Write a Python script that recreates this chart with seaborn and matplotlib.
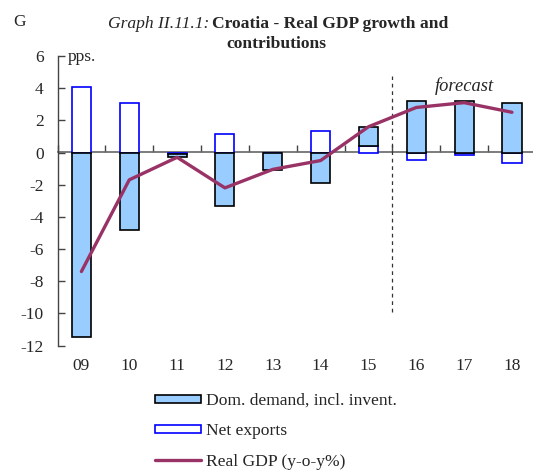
import numpy as np
import seaborn as sns
import matplotlib.pyplot as plt

# data
years = ['09', '10', '11', '12', '13', '14', '15', '16', '17', '18']
dom_demand = [-11.45, -4.8, -0.2, -3.35, -1.1, -1.9, 1.18, 3.2, 3.2, 3.1]
net_exports = [4.05, 3.05, -0.1, 1.15, 0.0, 1.35, 0.43, -0.46, -0.15, -0.66]
real_gdp = [-7.4, -1.7, -0.3, -2.2, -1.05, -0.5, 1.6, 2.8, 3.1, 2.5]
yticks = [6, 4, 2, 0, -2, -4, -6, -8, -10, -12]

sns.set_style("ticks")
plt.rcParams['font.family'] = ['Liberation Serif', 'DejaVu Serif']
plt.rcParams['font.size'] = 12.5
plt.rcParams['axes.unicode_minus'] = False

fig = plt.figure(figsize=(5.33, 4.70), dpi=100)
ax = fig.add_axes([57.5 / 533, 1 - 345.5 / 470, 475.5 / 533, 289.5 / 470])

x = np.arange(len(years))
nx = np.array(net_exports)
dd = np.array(dom_demand)
# stack domestic demand on top of net exports when both have the same sign
dd_bottom = np.where(np.sign(nx) == np.sign(dd), nx, 0.0)

width = 0.4
ax.bar(x, nx, width=width, color='white', edgecolor='#0000FF', linewidth=1.2,
       label='Net exports', zorder=2)
ax.bar(x, dd, bottom=dd_bottom, width=width, color='#99CCFF', edgecolor='black',
       linewidth=1.2, label='Dom. demand, incl. invent.', zorder=3)
sns.lineplot(x=x, y=real_gdp, ax=ax, color='#993366', linewidth=2.4,
             label='Real GDP (y-o-y%)', zorder=4)

ax.set_xlim(-0.5, 9.44)
ax.set_ylim(-12, 6)
ax.set_yticks(yticks)
ax.tick_params(axis='y', direction='in', length=5, width=1, pad=10,
               labelsize=12.5, color='#444444')
ax.set_xticks(x)
ax.set_xticklabels(years)
ax.tick_params(axis='x', length=0, pad=9, labelsize=12.5)

for s in ['top', 'right', 'bottom']:
    ax.spines[s].set_visible(False)
ax.spines['left'].set_color('#444444')
ax.spines['left'].set_linewidth(1)

# zero line with ticks between categories (secondary axis sits at y = 0)
zero = ax.secondary_xaxis(12 / 18)
zero.set_xticks(np.arange(len(years) + 1) - 0.5)
zero.tick_params(direction='out', length=5, width=1, color='#444444',
                 labelbottom=False, labeltop=False)
for s in ['top', 'bottom']:
    zero.spines[s].set_color('#666666')
    zero.spines[s].set_linewidth(1.2)

# forecast divider
ax.vlines(6.5, -9.9, 4.75, colors='#333333', linestyles=(0, (3, 3)), linewidth=0.9)
ax.text(8.0, 4.1, 'forecast', style='italic', ha='center', va='center', fontsize=13.3)
ax.text(0.022, 0.995, 'pps.', transform=ax.transAxes, ha='left', va='center',
        fontsize=12.5)

# titles
fig.text(13 / 533, 1 - 22 / 470, 'G', ha='left', va='center', fontsize=12.5)
fig.text(209.5 / 533, 1 - 24 / 470, 'Graph II.11.1:', style='italic', ha='right',
         va='center', fontsize=12.6)
fig.text(212 / 533, 1 - 24 / 470, 'Croatia - Real GDP growth and', weight='bold',
         ha='left', va='center', fontsize=12.6)
fig.text(276 / 533, 1 - 44 / 470, 'contributions', weight='bold', ha='center',
         va='center', fontsize=12.6)

handles, labels = ax.get_legend_handles_labels()
order = [labels.index('Dom. demand, incl. invent.'), labels.index('Net exports'),
         labels.index('Real GDP (y-o-y%)')]
if ax.get_legend():
    ax.get_legend().remove()
fig.legend([handles[i] for i in order], [labels[i] for i in order],
           loc='upper left', bbox_to_anchor=(155 / 533, 1 - 393 / 470),
           frameon=False, fontsize=12.6, handlelength=2.6, handleheight=0.35,
           labelspacing=0.82, handletextpad=0.3, borderpad=0, borderaxespad=0)

fig.savefig('out.png', dpi=100)
